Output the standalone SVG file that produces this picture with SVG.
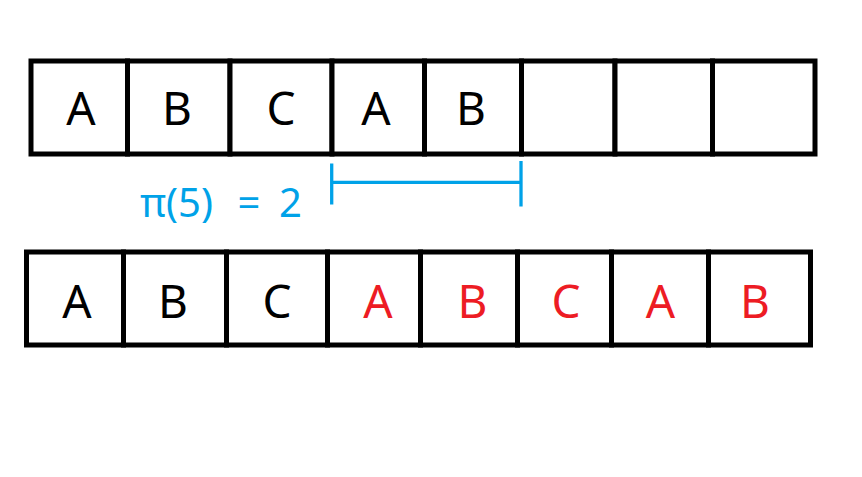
<svg xmlns="http://www.w3.org/2000/svg" width="862" height="477" viewBox="0 0 862 477">
<style>
.cell{fill:#fff;stroke:#000;stroke-width:5}
.lt{font-family:"Noto Sans","Open Sans","DejaVu Sans",sans-serif;font-size:46px;text-anchor:middle}
.k{fill:#000}
.r{fill:#ED1C24}
.br{stroke:#00A2E8;stroke-width:3.3;fill:none}
.bt{font-family:"Noto Sans","Open Sans","DejaVu Sans",sans-serif;font-size:40px;fill:#00A2E8}
</style>
<rect width="862" height="477" fill="#fff"/>
<g id="top-row">
<g id="t1"><rect class="cell" x="31" y="61" width="96.5" height="93"/><text class="lt k" x="81" y="125">A</text></g>
<g id="t2"><rect class="cell" x="127.5" y="61" width="102.5" height="93"/><text class="lt k" x="177" y="125">B</text></g>
<g id="t3"><rect class="cell" x="230" y="61" width="102" height="93"/><text class="lt k" x="281" y="125">C</text></g>
<g id="t4"><rect class="cell" x="332" y="61" width="92.5" height="93"/><text class="lt k" x="376" y="125">A</text></g>
<g id="t5"><rect class="cell" x="424.5" y="61" width="97" height="93"/><text class="lt k" x="471" y="125">B</text></g>
<g id="t6"><rect class="cell" x="521.5" y="61" width="93.5" height="93"/></g>
<g id="t7"><rect class="cell" x="615" y="61" width="97.5" height="93"/></g>
<g id="t8"><rect class="cell" x="712.5" y="61" width="102.5" height="93"/></g>
</g>
<g id="bottom-row">
<g id="b1"><rect class="cell" x="26.5" y="252" width="97" height="93"/><text class="lt k" x="77" y="317.5">A</text></g>
<g id="b2"><rect class="cell" x="123.5" y="252" width="103" height="93"/><text class="lt k" x="173" y="317.5">B</text></g>
<g id="b3"><rect class="cell" x="226.5" y="252" width="101" height="93"/><text class="lt k" x="277" y="317.5">C</text></g>
<g id="b4"><rect class="cell" x="327.5" y="252" width="93" height="93"/><text class="lt r" x="378" y="317.5">A</text></g>
<g id="b5"><rect class="cell" x="420.5" y="252" width="97" height="93"/><text class="lt r" x="472.5" y="317.5">B</text></g>
<g id="b6"><rect class="cell" x="517.5" y="252" width="94" height="93"/><text class="lt r" x="566" y="317.5">C</text></g>
<g id="b7"><rect class="cell" x="611.5" y="252" width="97" height="93"/><text class="lt r" x="660.5" y="317.5">A</text></g>
<g id="b8"><rect class="cell" x="708.5" y="252" width="102" height="93"/><text class="lt r" x="755" y="317.5">B</text></g>
</g>
<g id="connectors">
<path class="br" d="M331.7 163.5V204.5M521 161V206.5M331.7 182.3H521"/>
</g>
<g id="label">
<text class="bt" x="140" y="216.5">π(5) <tspan x="237.5">=</tspan> <tspan x="279">2</tspan></text>
</g>
</svg>
